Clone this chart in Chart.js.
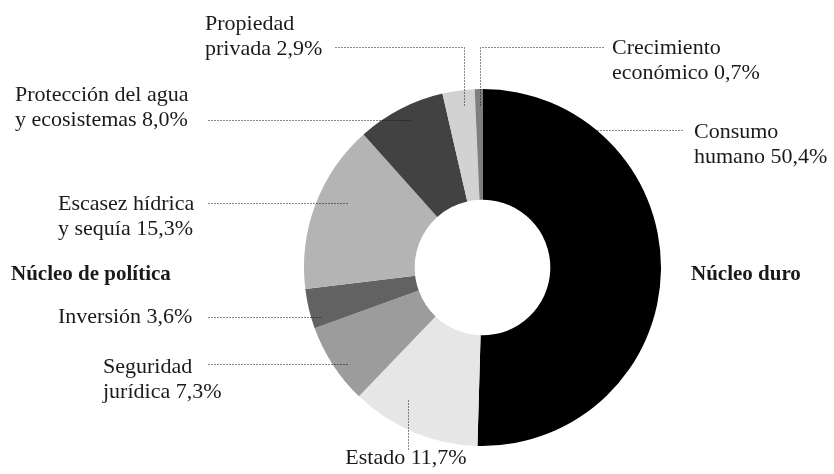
<!DOCTYPE html>
<html>
<head>
<meta charset="utf-8">
<script src="https://cdn.jsdelivr.net/npm/chart.js@4/dist/chart.umd.min.js"></script>
<style>
html,body{margin:0;padding:0;background:#fff;}
#wrap{position:relative;width:834px;height:474px;}
</style>
</head>
<body>
<div id="wrap"><canvas id="c" width="834" height="474"></canvas></div>
<script>
// ---- data ----
const categories = ["Consumo humano", "Estado", "Seguridad jurídica", "Inversión",
  "Escasez hídrica y sequía", "Protección del agua y ecosistemas", "Propiedad privada", "Crecimiento económico"];
const shares = [50.4, 11.7, 7.3, 3.6, 15.3, 8.0, 2.9, 0.7];
const labelLines = [
  ["Consumo", "humano 50,4%"],
  ["Estado 11,7%"],
  ["Seguridad", "jurídica 7,3%"],
  ["Inversión 3,6%"],
  ["Escasez hídrica", "y sequía 15,3%"],
  ["Protección del agua", "y ecosistemas 8,0%"],
  ["Propiedad", "privada 2,9%"],
  ["Crecimiento", "económico 0,7%"]
];
const groupLabels = ["Núcleo de política", "Núcleo duro"];

// ---- styles / layout ----
const sliceColors = ["#000000", "#e6e6e6", "#9c9c9c", "#626262", "#b4b4b4", "#424242", "#d2d2d2", "#7f7f7f"];
const FONT = '"Liberation Serif", "Times New Roman", serif';
// text anchor (x, first baseline y, align) and leader polyline, per category
const annot = [
  {x: 694, y: 138, align: "left",   leader: [[597, 130], [684, 130]]},
  {x: 406, y: 464, align: "center", leader: [[408, 400], [408, 449]]},
  {x: 103, y: 373, align: "left",   leader: [[208, 364], [347, 364]]},
  {x: 58,  y: 323, align: "left",   leader: [[208, 317], [320, 317]]},
  {x: 58,  y: 210, align: "left",   leader: [[208, 203], [347, 203]]},
  {x: 15,  y: 101, align: "left",   leader: [[208, 120], [410, 120]]},
  {x: 205, y: 30,  align: "left",   leader: [[335, 47], [464, 47], [464, 105]]},
  {x: 612, y: 54,  align: "left",   leader: [[480, 105], [480, 47], [603, 47]]}
];
const groupPos = [{x: 11, y: 280}, {x: 691, y: 280}];

const annotPlugin = {
  id: "annot",
  afterDraw(chart) {
    const ctx = chart.ctx;
    ctx.save();
    // leaders
    ctx.strokeStyle = "#111";
    ctx.lineWidth = 1;
    ctx.setLineDash([1, 2]);
    annot.forEach(a => {
      ctx.beginPath();
      a.leader.forEach((p, i) => {
        const px = Math.round(p[0]) + 0.5, py = Math.round(p[1]) + 0.5;
        if (i === 0) ctx.moveTo(px, py); else ctx.lineTo(px, py);
      });
      ctx.stroke();
    });
    ctx.setLineDash([]);
    // labels
    ctx.fillStyle = "#1a1a1a";
    ctx.font = "22px " + FONT;
    ctx.textBaseline = "alphabetic";
    labelLines.forEach((lines, i) => {
      const a = annot[i];
      ctx.textAlign = a.align;
      lines.forEach((t, j) => ctx.fillText(t, a.x, a.y + j * 24.5));
    });
    ctx.font = "bold 21px " + FONT;
    ctx.textAlign = "left";
    groupLabels.forEach((t, i) => ctx.fillText(t, groupPos[i].x, groupPos[i].y));
    ctx.restore();
  }
};

new Chart(document.getElementById("c"), {
  type: "doughnut",
  data: {
    labels: categories,
    datasets: [{
      data: shares,
      backgroundColor: sliceColors,
      borderWidth: 0
    }]
  },
  options: {
    responsive: false,
    animation: false,
    cutout: "38%",
    layout: {padding: {left: 304, right: 173, top: 89, bottom: 28}},
    plugins: {legend: {display: false}, tooltip: {enabled: false}}
  },
  plugins: [annotPlugin]
});
</script>
</body>
</html>
